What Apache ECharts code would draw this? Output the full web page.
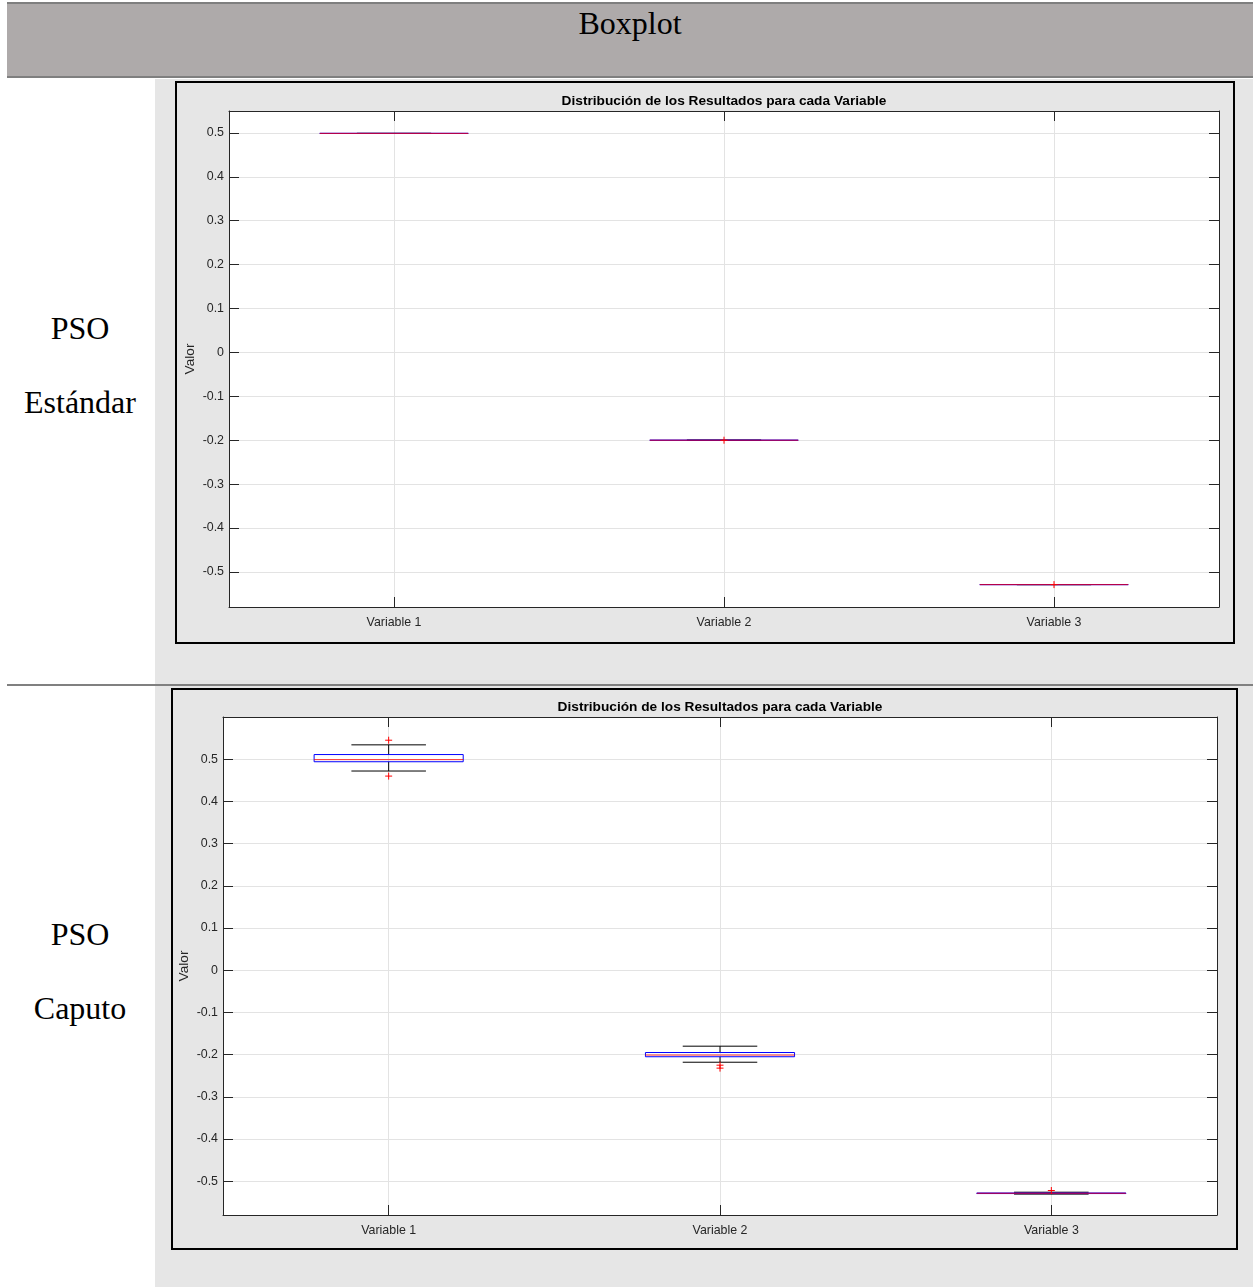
<!DOCTYPE html>
<html>
<head>
<meta charset="utf-8">
<script src="https://cdn.jsdelivr.net/npm/echarts@6/dist/echarts.min.js"></script>
<style>
  html, body { margin: 0; padding: 0; background: #fff; }
  body { width: 1253px; height: 1287px; position: relative; overflow: hidden; font-family: "Liberation Serif", "Times New Roman", serif; }
  .abs { position: absolute; }
  #header { left: 7px; top: 2px; width: 1246px; height: 72px; background: #aeaaaa; border-top: 2px solid #7f7f7f; border-bottom: 2px solid #7f7f7f; }
  #headerText { left: 0; top: 0px; width: 100%; text-align: center; font-size: 32px; color: #000; line-height: 38px; }
  #rightCol { left: 155px; top: 79px; width: 1098px; height: 1208px; background: #e6e6e6; }
  #sep { left: 7px; top: 684px; width: 1246px; height: 2px; background: #808080; }
  .lbl { left: 0; width: 160px; text-align: center; font-size: 32px; line-height: 38px; color: #000; }
  .frame { border: 2px solid #000; box-sizing: border-box; background: #e6e6e6; }
</style>
</head>
<body>
<div id="header" class="abs"><div id="headerText" class="abs">Boxplot</div></div>
<div id="rightCol" class="abs"></div>
<div id="sep" class="abs"></div>
<div class="abs lbl" style="top:309px;">PSO</div>
<div class="abs lbl" style="top:383px;">Estándar</div>
<div class="abs lbl" style="top:915px;">PSO</div>
<div class="abs lbl" style="top:989px;">Caputo</div>
<div id="c1" class="abs frame" style="left:175px; top:81px; width:1060px; height:563px;"><div id="chart1" style="width:1056px;height:559px;"></div></div>
<div id="c2" class="abs frame" style="left:171px; top:688px; width:1067px; height:562px;"><div id="chart2" style="width:1063px;height:558px;"></div></div>
<script>
// ---- data ----
const categories = ['Variable 1', 'Variable 2', 'Variable 3'];
const chartTitle = 'Distribución de los Resultados para cada Variable';
const yAxisName = 'Valor';
// PSO Estándar: [lowerWhisker, q1, median, q3, upperWhisker]
const stdV1 = [0.499, 0.499, 0.499, 0.499, 0.499];
const stdV2 = [-0.200, -0.200, -0.200, -0.200, -0.200];
const stdV3 = [-0.529, -0.529, -0.529, -0.529, -0.529];
const stdOutV1 = [];
const stdOutV2 = [-0.200];
const stdOutV3 = [-0.529];
const stdYMin = -0.58, stdYMax = 0.55;
// PSO Caputo
const capV1 = [0.472, 0.494, 0.499, 0.511, 0.534];
const capV2 = [-0.218, -0.205, -0.201, -0.195, -0.180];
const capV3 = [-0.5305, -0.5292, -0.5285, -0.5278, -0.526];
const capOutV1 = [0.545, 0.460];
const capOutV2 = [-0.225, -0.232];
const capOutV3 = [-0.522];
const capYMin = -0.58, capYMax = 0.60;

// category slots: variables sit on odd slots so grid lines and ticks fall on them
const slots = [''];
categories.forEach(c => { slots.push(c); slots.push(''); });
const onVar = i => i % 2 === 1;

function renderBox(params, api) {
  const x = api.value(0);
  const lo = api.value(1), q1 = api.value(2), med = api.value(3), q3 = api.value(4), hi = api.value(5);
  const step = api.size([1, 0])[0];
  const bw = step * 0.9, cw = step * 0.45;
  const pLo = api.coord([x, lo]), pQ1 = api.coord([x, q1]), pMed = api.coord([x, med]);
  const pQ3 = api.coord([x, q3]), pHi = api.coord([x, hi]);
  const cx = pMed[0];
  const black = { stroke: '#000', lineWidth: 1 };
  return {
    type: 'group',
    children: [
      { type: 'line', shape: { x1: cx, y1: pHi[1], x2: cx, y2: pQ3[1] }, style: black },
      { type: 'line', shape: { x1: cx, y1: pQ1[1], x2: cx, y2: pLo[1] }, style: black },
      { type: 'line', shape: { x1: cx - cw / 2, y1: pHi[1], x2: cx + cw / 2, y2: pHi[1] }, style: black },
      { type: 'line', shape: { x1: cx - cw / 2, y1: pLo[1], x2: cx + cw / 2, y2: pLo[1] }, style: black },
      { type: 'rect', shape: { x: cx - bw / 2, y: pQ3[1], width: bw, height: Math.max(pQ1[1] - pQ3[1], 0) },
        style: { fill: 'none', stroke: '#0000ff', lineWidth: 1 } },
      { type: 'line', shape: { x1: cx - bw / 2, y1: pMed[1], x2: cx + bw / 2, y2: pMed[1] },
        style: { stroke: '#ff0000', lineWidth: 1, opacity: 0.8 } }
    ]
  };
}

function renderPlus(params, api) {
  const p = api.coord([api.value(0), api.value(1)]);
  const s = 3.5;
  const st = { stroke: '#ff0000', lineWidth: 1 };
  return {
    type: 'group',
    children: [
      { type: 'line', shape: { x1: p[0] - s, y1: p[1], x2: p[0] + s, y2: p[1] }, style: st },
      { type: 'line', shape: { x1: p[0], y1: p[1] - s, x2: p[0], y2: p[1] + s }, style: st }
    ]
  };
}

function makeOption(boxes, outs, ymin, ymax, grid, titleLeft, titleTop) {
  const boxData = boxes.map((b, i) => [2 * i + 1].concat(b));
  const outData = [];
  outs.forEach((arr, i) => arr.forEach(v => outData.push([2 * i + 1, v])));
  const axisColor = '#262626';
  const gridColor = '#e3e3e3';
  const font = 'Liberation Sans, Arial, sans-serif';
  const labelStyle = { color: axisColor, fontSize: 12.4, fontFamily: font };
  const yBase = {
    type: 'value', min: ymin, max: ymax, minInterval: 0.1, maxInterval: 0.1,
    axisLine: { show: true, lineStyle: { color: axisColor, width: 1 } },
    axisTick: { show: true, inside: true, length: 10, lineStyle: { color: axisColor } }
  };
  const xBase = {
    type: 'category', data: slots, boundaryGap: false,
    axisLine: { show: true, onZero: false, lineStyle: { color: axisColor, width: 1 } },
    axisTick: { show: true, inside: true, length: 10, interval: onVar, lineStyle: { color: axisColor } }
  };
  return {
    animation: false,
    backgroundColor: '#e6e6e6',
    title: {
      text: chartTitle, left: titleLeft, top: titleTop, textAlign: 'center',
      textStyle: { fontSize: 13.7, fontWeight: 'bold', color: '#000', fontFamily: font }
    },
    grid: Object.assign({ show: true, backgroundColor: '#ffffff', borderWidth: 0, containLabel: false,
      outerBoundsMode: 'none' }, grid),
    xAxis: [
      Object.assign({}, xBase, {
        position: 'bottom',
        axisLabel: Object.assign({ interval: onVar, margin: 10 }, labelStyle),
        splitLine: { show: true, interval: onVar, lineStyle: { color: gridColor, width: 1 } }
      }),
      Object.assign({}, xBase, { position: 'top', axisLabel: { show: false }, splitLine: { show: false } })
    ],
    yAxis: [
      Object.assign({}, yBase, {
        position: 'left',
        name: yAxisName, nameLocation: 'middle', nameGap: 32, nameRotate: 90, nameMoveOverlap: false,
        nameTextStyle: { color: axisColor, fontSize: 13.7, fontFamily: font },
        axisLabel: Object.assign({ margin: 5, showMinLabel: false, showMaxLabel: false,
          formatter: v => String(Math.round(v * 10) / 10) }, labelStyle),
        splitLine: { show: true, lineStyle: { color: gridColor, width: 1 } }
      }),
      Object.assign({}, yBase, { position: 'right', axisLabel: { show: false }, splitLine: { show: false } })
    ],
    series: [
      { type: 'custom', xAxisIndex: 0, yAxisIndex: 0, renderItem: renderBox, data: boxData,
        encode: { x: 0, y: [1, 2, 3, 4, 5] }, clip: true, z: 3 },
      { type: 'custom', xAxisIndex: 0, yAxisIndex: 0, renderItem: renderPlus, data: outData,
        encode: { x: 0, y: 1 }, z: 4 }
    ]
  };
}

const ch1 = echarts.init(document.getElementById('chart1'), null, { renderer: 'canvas' });
ch1.setOption(makeOption([stdV1, stdV2, stdV3], [stdOutV1, stdOutV2, stdOutV3], stdYMin, stdYMax,
  { left: 52, top: 28, width: 990, height: 496 }, 542, 6));
const ch2 = echarts.init(document.getElementById('chart2'), null, { renderer: 'canvas' });
ch2.setOption(makeOption([capV1, capV2, capV3], [capOutV1, capOutV2, capOutV3], capYMin, capYMax,
  { left: 50, top: 27, width: 994, height: 498 }, 542, 5));
</script>
</body>
</html>
